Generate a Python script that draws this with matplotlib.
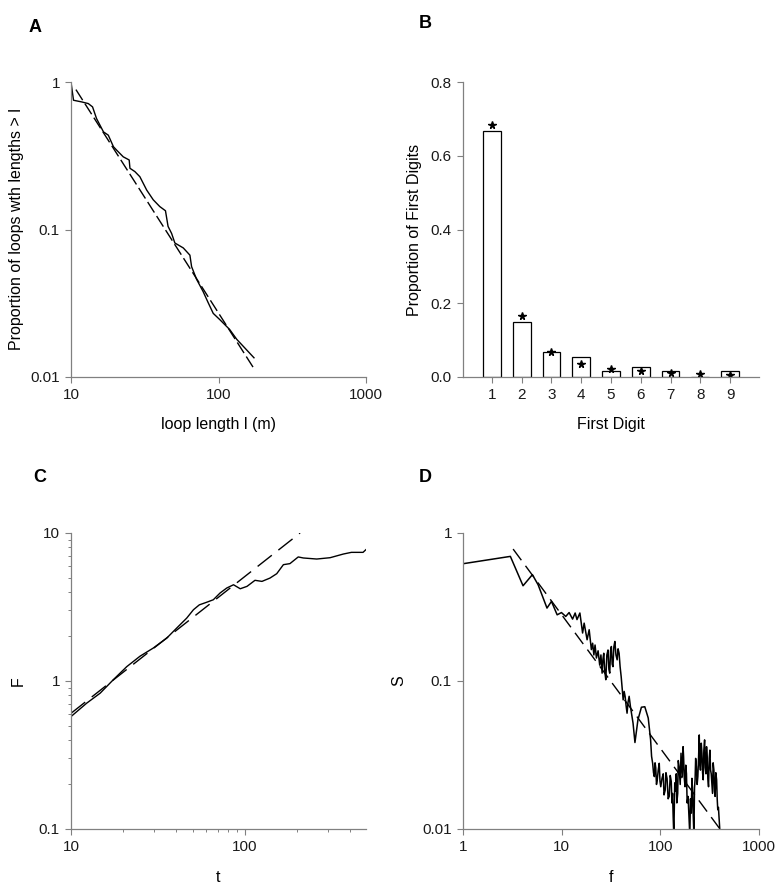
import matplotlib
matplotlib.use("Agg")
import matplotlib.pyplot as plt
from matplotlib.ticker import FixedLocator, NullLocator, FuncFormatter, LogLocator

plt.rcParams['font.family'] = ['Liberation Sans', 'DejaVu Sans']
plt.rcParams['font.size'] = 11

# panel A: loop length distribution
loop_len = [10, 10.4, 11.8, 13.1, 14.0, 14.9, 16.6, 17.9, 19.4, 20.4, 22.6, 24.8, 25.1,
            27.1, 29.3, 32.6, 36.1, 40.0, 43.7, 45.5, 48.1, 50.6, 57.7, 64.0, 65.7, 71.0,
            78.6, 85.0, 92.1, 102, 119, 133, 174]
loop_prop = [1.0, 0.752, 0.733, 0.714, 0.678, 0.565, 0.459, 0.436, 0.364, 0.345, 0.311,
             0.296, 0.260, 0.247, 0.228, 0.185, 0.159, 0.143, 0.134, 0.105, 0.094, 0.081,
             0.075, 0.067, 0.056, 0.046, 0.038, 0.032, 0.027, 0.0245, 0.021, 0.018, 0.0135]
loop_fit_x = [10.8, 174]
loop_fit_y = [0.888, 0.0114]

# panel B: first digits
digits = [1, 2, 3, 4, 5, 6, 7, 8, 9]
digit_obs = [0.666, 0.148, 0.067, 0.054, 0.015, 0.027, 0.015, 0.0, 0.015]
digit_ref = [0.683, 0.165, 0.069, 0.035, 0.023, 0.016, 0.012, 0.007, 0.005]

# panel C: fluctuation F(t)
t_vals = [10, 12.3, 14.7, 17.5, 20.9, 24.9, 29.7, 35.5, 40.5, 46.2, 50.5, 54.6, 60.0, 65.7,
          71.8, 78.5, 85.8, 93.8, 102.6, 114, 125, 139, 152, 166, 181, 202, 216, 258, 308,
          367, 408, 476, 494]
f_vals = [0.575, 0.708, 0.827, 1.02, 1.25, 1.47, 1.67, 1.95, 2.28, 2.66, 3.03, 3.27, 3.40,
          3.54, 3.93, 4.25, 4.47, 4.20, 4.36, 4.79, 4.71, 4.96, 5.31, 6.11, 6.21, 6.89, 6.78,
          6.67, 6.81, 7.21, 7.40, 7.40, 7.71]
t_fit_x = [10, 207]
t_fit_y = [0.605, 10.0]

# panel D: spectrum S(f)
freq = [1, 3.02, 4.06, 5.05, 5.77, 7.1, 7.88, 9.0, 9.95, 11.0, 11.9, 12.9, 13.7, 14.3, 15.3,
        16.3, 16.9, 18.1, 19.0, 20.0, 20.6, 21.2, 21.8, 22.5, 23.4, 24.3, 25.0, 25.7, 26.2,
        26.7, 27.3, 28.0, 28.7, 29.5, 30.1, 30.7, 31.3, 31.9, 32.5, 33.1, 33.8, 34.6, 35.5,
        36.5, 37.3, 38.2, 39.1, 40.1, 41.0, 42.0, 43.0, 44.0, 45.0, 46.0, 47.1, 48.3, 49.8,
        52.9, 55.3, 59.3, 64.3, 69.6, 75.4, 79.7, 81.5, 83.6, 85.3, 87.0, 88.4, 89.8, 91.4,
        93.0, 95.2, 97.5, 99.2, 101, 104, 107, 109, 112, 114, 117, 120, 123, 126, 129, 131,
        133, 135, 137, 139, 140, 142, 145, 147, 150, 152, 155, 159, 162, 164, 167, 170, 172,
        175, 178, 181, 184, 187, 191, 195, 199, 202, 206, 209, 212, 215, 219, 222, 225, 228,
        232, 236, 240, 244, 248, 251, 255, 260, 264, 268, 272, 276, 281, 285, 290, 294, 298,
        303, 308, 313, 318, 323, 328, 333, 338, 343, 349, 354, 359, 365, 372, 377, 382, 388,
        395, 402]
spec = [0.620, 0.695, 0.440, 0.523, 0.447, 0.311, 0.345, 0.280, 0.290, 0.273, 0.290, 0.262,
        0.288, 0.260, 0.288, 0.211, 0.246, 0.190, 0.222, 0.163, 0.180, 0.150, 0.175, 0.143,
        0.160, 0.128, 0.150, 0.113, 0.140, 0.154, 0.118, 0.102, 0.150, 0.162, 0.120, 0.113,
        0.160, 0.171, 0.130, 0.125, 0.170, 0.185, 0.150, 0.139, 0.165, 0.154, 0.125, 0.107,
        0.090, 0.0746, 0.085, 0.0784, 0.068, 0.0606, 0.072, 0.0788, 0.067, 0.0519, 0.0384,
        0.0547, 0.0665, 0.067, 0.0562, 0.040, 0.031, 0.0278, 0.024, 0.0226, 0.028, 0.026,
        0.020, 0.0214, 0.025, 0.0278, 0.021, 0.0193, 0.022, 0.0236, 0.017, 0.0183, 0.024,
        0.0219, 0.016, 0.0166, 0.023, 0.0210, 0.015, 0.0174, 0.012, 0.009, 0.016, 0.0205,
        0.018, 0.0236, 0.015, 0.0174, 0.029, 0.0263, 0.020, 0.0325, 0.028, 0.0226, 0.036,
        0.0309, 0.022, 0.0193, 0.027, 0.0236, 0.015, 0.0166, 0.012, 0.009, 0.016, 0.0128,
        0.022, 0.0183, 0.013, 0.009, 0.019, 0.0215, 0.030, 0.0263, 0.020, 0.0226, 0.030,
        0.0432, 0.028, 0.025, 0.038, 0.0325, 0.024, 0.0215, 0.034, 0.040, 0.026, 0.0236,
        0.036, 0.0309, 0.022, 0.0193, 0.030, 0.0341, 0.025, 0.0236, 0.020, 0.0174, 0.028,
        0.025, 0.018, 0.0166, 0.024, 0.0215, 0.016, 0.0135, 0.014, 0.0115, 0.0095]
s_fit_x = [3.22, 402]
s_fit_y = [0.779, 0.01]

W, H = 777, 886
spine_col = '#808080'


def make_axes(fig, x0, y0, x1, y1):
    ax = fig.add_axes([x0 / W, 1 - y1 / H, (x1 - x0) / W, (y1 - y0) / H])
    for s in ['top', 'right']:
        ax.spines[s].set_visible(False)
    for s in ['left', 'bottom']:
        ax.spines[s].set_color(spine_col)
        ax.spines[s].set_linewidth(0.9)
    ax.tick_params(which='major', direction='out', length=4, width=0.8, color=spine_col,
                   labelcolor='#1a1a1a', labelsize=11, pad=4)
    ax.tick_params(which='minor', direction='out', length=2.5, width=0.7, color=spine_col)
    return ax


fmt = FuncFormatter(lambda v, p: '%g' % v)

fig = plt.figure(figsize=(W / 100, H / 100), dpi=100)

# A
ax = make_axes(fig, 71, 82, 366, 377)
ax.plot(loop_len, loop_prop, color='black', lw=1.0)
ax.plot(loop_fit_x, loop_fit_y, color='black', lw=1.0, dashes=[9, 3])
ax.set_xscale('log')
ax.set_yscale('log')
ax.set_xlim(10, 1000)
ax.set_ylim(0.01, 1)
ax.xaxis.set_major_locator(FixedLocator([10, 100, 1000]))
ax.yaxis.set_major_locator(FixedLocator([0.01, 0.1, 1]))
ax.xaxis.set_minor_locator(NullLocator())
ax.yaxis.set_minor_locator(NullLocator())
ax.xaxis.set_major_formatter(fmt)
ax.yaxis.set_major_formatter(fmt)
ax.set_xlabel('loop length l (m)', fontsize=11.5)
ax.set_ylabel('Proportion of loops wth lengths > l', fontsize=11.5)
ax.xaxis.set_label_coords(0.5, -0.135)
ax.yaxis.set_label_coords(-0.16, 0.5)

# B
ax = make_axes(fig, 463, 82, 759, 377)
ax.bar(digits, digit_obs, width=0.6, color='white', edgecolor='black', linewidth=0.9)
ax.plot(digits, digit_ref, linestyle='none', marker='*', color='black', markersize=5.5)
ax.set_xlim(0.03, 9.97)
ax.set_ylim(0, 0.8)
ax.set_xticks(digits)
ax.set_yticks([0.0, 0.2, 0.4, 0.6, 0.8])
ax.yaxis.set_major_formatter(FuncFormatter(lambda v, p: '%.1f' % v))
ax.set_xlabel('First Digit', fontsize=11.5)
ax.set_ylabel('Proportion of First Digits', fontsize=11.5)
ax.xaxis.set_label_coords(0.5, -0.135)
ax.yaxis.set_label_coords(-0.14, 0.5)

# C
ax = make_axes(fig, 71, 533, 366, 829)
ax.plot(t_vals, f_vals, color='black', lw=1.0)
ax.plot(t_fit_x, t_fit_y, color='black', lw=1.0, dashes=[13, 6])
ax.set_xscale('log')
ax.set_yscale('log')
ax.set_xlim(10, 495)
ax.set_ylim(0.1, 10)
ax.xaxis.set_major_locator(FixedLocator([10, 100]))
ax.yaxis.set_major_locator(FixedLocator([0.1, 1, 10]))
ax.xaxis.set_minor_locator(LogLocator(base=10, subs=range(2, 10)))
ax.yaxis.set_minor_locator(LogLocator(base=10, subs=range(2, 10)))
ax.xaxis.set_minor_formatter(plt.NullFormatter())
ax.yaxis.set_minor_formatter(plt.NullFormatter())
ax.xaxis.set_major_formatter(fmt)
ax.yaxis.set_major_formatter(fmt)
ax.set_xlabel('t', fontsize=11.5)
ax.set_ylabel('F', fontsize=11.5)
ax.xaxis.set_label_coords(0.5, -0.14)
ax.yaxis.set_label_coords(-0.155, 0.5)

# D
ax = make_axes(fig, 463, 533, 759, 829)
ax.plot(freq, spec, color='black', lw=1.1)
ax.plot(s_fit_x, s_fit_y, color='black', lw=1.0, dashes=[10, 5])
ax.set_xscale('log')
ax.set_yscale('log')
ax.set_xlim(1, 1000)
ax.set_ylim(0.01, 1)
ax.xaxis.set_major_locator(FixedLocator([1, 10, 100, 1000]))
ax.yaxis.set_major_locator(FixedLocator([0.01, 0.1, 1]))
ax.xaxis.set_minor_locator(NullLocator())
ax.yaxis.set_minor_locator(NullLocator())
ax.xaxis.set_major_formatter(fmt)
ax.yaxis.set_major_formatter(fmt)
ax.set_xlabel('f', fontsize=11.5)
ax.set_ylabel('S', fontsize=11.5)
ax.xaxis.set_label_coords(0.5, -0.14)
ax.yaxis.set_label_coords(-0.19, 0.5)

# panel letters
for lab, x, y in [('A', 35, 27), ('B', 425, 23), ('C', 40, 477), ('D', 425, 477)]:
    fig.text(x / W, 1 - y / H, lab, ha='center', va='center', fontsize=13, fontweight='bold')

fig.savefig('out.png', dpi=100)
